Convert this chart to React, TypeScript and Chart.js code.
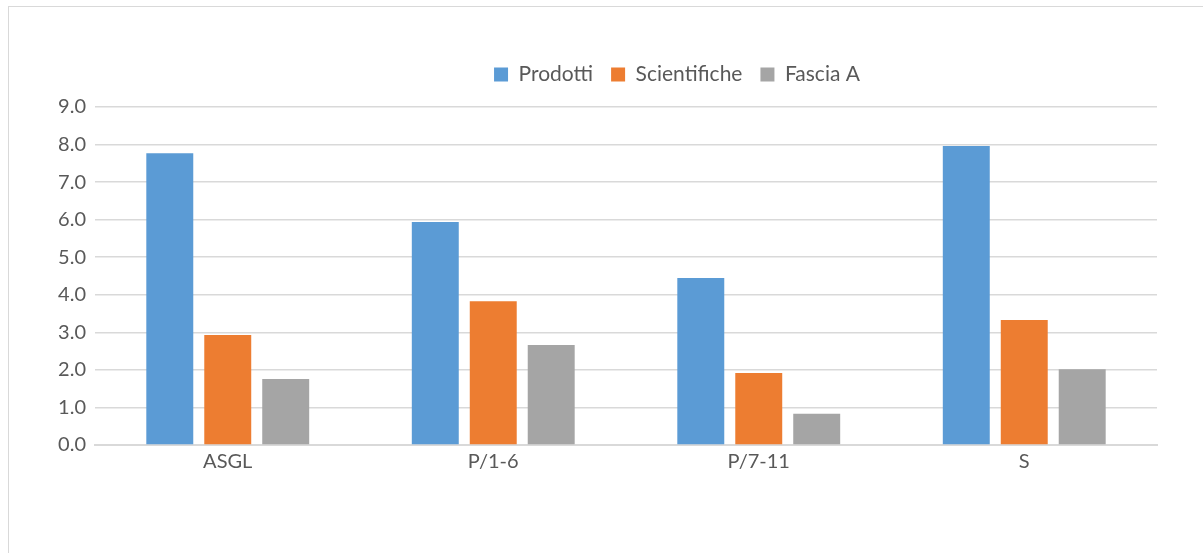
import React, { useEffect, useRef } from "react";
import { Chart, registerables } from "chart.js";

Chart.register(...registerables);

const categories = ["ASGL", "P/1-6", "P/7-11", "S"];
const seriesNames = ["Prodotti", "Scientifiche", "Fascia A"];
const prodotti = [7.77, 5.94, 4.45, 7.96];
const scientifiche = [2.93, 3.83, 1.92, 3.33];
const fasciaA = [1.76, 2.66, 0.83, 2.02];
const seriesColors = ["#5B9BD5", "#ED7D31", "#A5A5A5"];
const yMin = 0;
const yMax = 9;
const yStep = 1;

const legendGap = {
  id: "legendGap",
  beforeInit(chart: any) {
    const legend = chart.legend;
    if (!legend) return;
    const origFit = legend.fit;
    legend.fit = function () {
      origFit.bind(legend)();
      legend.height += 12;
    };
  },
};

export default function App() {
  const ref = useRef<HTMLCanvasElement | null>(null);
  useEffect(() => {
    if (!ref.current) return;
    const values = [prodotti, scientifiche, fasciaA];
    const chart = new Chart(ref.current, {
      type: "bar",
      data: {
        labels: categories,
        datasets: seriesNames.map((name, i) => ({
          label: name,
          data: values[i],
          backgroundColor: seriesColors[i],
          borderWidth: 0,
          categoryPercentage: 0.655,
          barPercentage: 0.81,
        })),
      },
      plugins: [legendGap],
      options: {
        responsive: false,
        animation: false,
        layout: { padding: { left: 0, right: 0, top: 39, bottom: 0 } },
        plugins: {
          legend: {
            position: "top",
            labels: {
              boxWidth: 14,
              boxHeight: 14,
              padding: 18,
              color: "#595959",
              font: { family: "Lato", size: 21 },
            },
          },
          tooltip: { enabled: false },
        },
        scales: {
          x: {
            grid: { display: false },
            border: { display: true, color: "#d9d9d9", width: 2 },
            ticks: { color: "#595959", font: { family: "Lato", size: 20 }, padding: -3 },
          },
          y: {
            min: yMin,
            max: yMax,
            afterFit: (s: any) => { s.width = 86; },
            grid: { color: "#d9d9d9", lineWidth: 1.5, drawTicks: false },
            border: { display: false },
            ticks: {
              stepSize: yStep,
              color: "#595959",
              font: { family: "Lato", size: 20 },
              padding: 9,
              callback: (v: any) => Number(v).toFixed(1),
            },
          },
          yRight: {
            type: "linear",
            position: "right",
            afterFit: (s: any) => { s.width = 188; },
            grid: { display: false, drawTicks: false },
            border: { display: false },
            ticks: { display: false },
          },
        },
      },
    });
    return () => chart.destroy();
  }, []);
  return (
    <div style={{ position: "absolute", left: 8, top: 6, width: 1195, height: 547, overflow: "hidden" }}>
      <div style={{ width: 1336, height: 600, borderTop: "1.5px solid #d9d9d9", borderLeft: "1.5px solid #d9d9d9" }}>
        <canvas ref={ref} width={1336} height={464} style={{ display: "block" }} />
      </div>
    </div>
  );
}
